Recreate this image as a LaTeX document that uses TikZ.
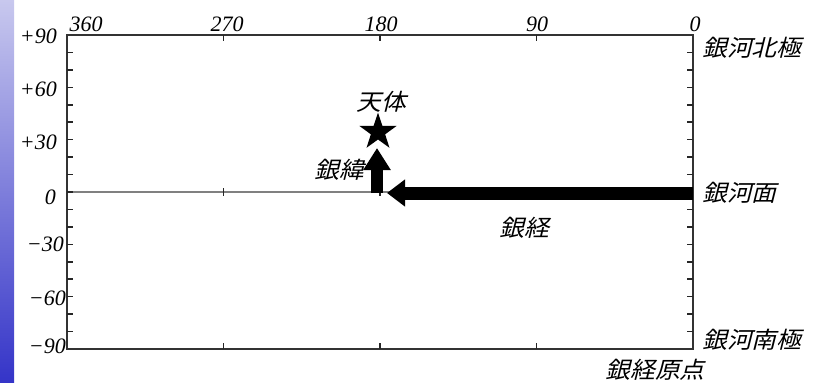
\documentclass[tikz,border=0pt]{standalone}
\usepackage{fontspec}
\setmainfont{Liberation Serif}
\newfontfamily\cjk[FakeSlant=0.25,FakeStretch=1.08]{Noto Sans CJK JP}
\usetikzlibrary{arrows.meta,shapes.geometric}
\definecolor{barTop}{RGB}{200,200,238}
\definecolor{barMid}{RGB}{122,122,218}
\definecolor{barBot}{RGB}{52,52,200}
\begin{document}
\begin{tikzpicture}[x=1pt,y=-1pt,
  num/.style={font=\fontsize{22}{24}\selectfont\itshape, inner sep=0pt},
  jp/.style={font=\fontsize{23}{26}\selectfont\cjk, inner sep=0pt},
  frame/.style={line width=2.2pt, draw=black!80},
  tickmark/.style={line width=1.6pt, draw=black!85},
  bigarrow/.style={line width=13pt, -{Triangle[length=18pt,width=26pt]}}]
\useasboundingbox (0,0) rectangle (817,383);
\shade[top color=barTop, middle color=barMid, bottom color=barBot] (0,0) rectangle (14,383);
% zero line
\draw[gray, line width=1.6pt] (67,192) -- (693,192);
% frame
\draw[frame] (67,35) rectangle (693,349);
% longitude ticks
\foreach \x in {223.5,380,536.5} {
  \draw[tickmark] (\x,35) -- (\x,41);
  \draw[tickmark] (\x,349) -- (\x,343);
  \draw[tickmark] (\x,188) -- (\x,196);
}
% latitude ticks
\foreach \i in {1,...,17} {
  \pgfmathsetmacro{\yy}{35+\i*17.444}
  \draw[tickmark] (67,\yy) -- (73,\yy);
  \draw[tickmark] (693,\yy) -- (687,\yy);
}
% top labels
\node[num] (l360) at (86,24) {360};
\node[num] (l270) at (227,24) {270};
\node[num] (l180) at (381,24) {180};
\node[num] (l90) at (537,24) {90};
\node[num] (l0) at (695,24) {0};
% left labels
\node[num, anchor=east] (p90) at (57,36) {+90};
\node[num, anchor=east] (p60) at (57,89) {+60};
\node[num, anchor=east] (p30) at (57,142) {+30};
\node[num, anchor=east] (z0) at (56,197) {0};
\node[num, anchor=east] (m30) at (64,244) {−30};
\node[num, anchor=east] (m60) at (66,298) {−60};
\node[num, anchor=east] (m90) at (66,346) {−90};
% right labels
\node[jp, anchor=west] (ngp) at (702,48) {銀河北極};
\node[jp, anchor=west] (gp) at (702,193) {銀河面};
\node[jp, anchor=west] (sgp) at (702,340) {銀河南極};
\node[jp] (orig) at (655,370) {銀経原点};
% object
\node[star, star points=5, star point ratio=2.6, fill=black, minimum size=39pt, inner sep=0pt] (obj) at (378,132) {};
\node[jp] (objlabel) at (381,102) {天体};
% arrows
\coordinate (latBase) at (377,193);
\coordinate (latTip) at (377,148);
\draw[line width=12pt, -{Triangle[length=22pt,width=26pt]}] (latBase) -- (latTip);
\coordinate (lonBase) at (693,193);
\coordinate (lonTip) at (387,193);
\draw[bigarrow] (lonBase) -- (lonTip);
\node[jp] (latlabel) at (339,170) {銀緯};
\node[jp] (lonlabel) at (524,228) {銀経};
\end{tikzpicture}
\end{document}
